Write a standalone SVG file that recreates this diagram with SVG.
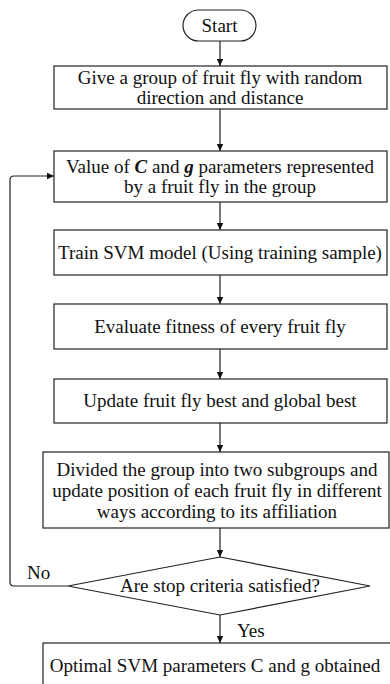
<svg xmlns="http://www.w3.org/2000/svg" width="390" height="684" viewBox="0 0 390 684">
<defs>
<marker id="ah" markerWidth="8" markerHeight="8" refX="7" refY="4" orient="auto" markerUnits="userSpaceOnUse">
<path d="M0,0.8 L7,4 L0,7.2 Z" fill="#111"/>
</marker>
<style>
.box{fill:#fff;stroke:#222;stroke-width:1.2}
.t{font-family:"Liberation Serif","Times New Roman",serif;font-size:19px;fill:#111;text-anchor:middle}
.l{font-family:"Liberation Serif","Times New Roman",serif;font-size:19px;fill:#111}
.c{fill:none;stroke:#222;stroke-width:1.2}
</style>
</defs>
<rect width="390" height="684" fill="#fff"/>
<g id="connectors">
<line class="c" x1="220" y1="41" x2="220" y2="66" marker-end="url(#ah)"/>
<line class="c" x1="220" y1="109" x2="220" y2="151" marker-end="url(#ah)"/>
<line class="c" x1="220" y1="202" x2="220" y2="230" marker-end="url(#ah)"/>
<line class="c" x1="220" y1="275" x2="220" y2="304" marker-end="url(#ah)"/>
<line class="c" x1="220" y1="349" x2="220" y2="379" marker-end="url(#ah)"/>
<line class="c" x1="220" y1="423" x2="220" y2="452" marker-end="url(#ah)"/>
<line class="c" x1="220" y1="528" x2="220" y2="557" marker-end="url(#ah)"/>
<line class="c" x1="220" y1="615" x2="220" y2="643" marker-end="url(#ah)"/>
<path class="c" d="M68,586 H14 Q10,586 10,582 V180 Q10,176 14,176 H54" marker-end="url(#ah)"/>
<text class="l" x="27" y="579">No</text>
<text class="l" x="237" y="637">Yes</text>
</g>
<g id="start">
<rect class="box" x="183" y="10" width="73" height="31" rx="15.5"/>
<text class="t" x="219.5" y="32">Start</text>
</g>
<g id="init">
<rect class="box" x="54" y="66" width="333" height="43"/>
<text class="t" x="220" y="84">Give a group of fruit fly with random</text>
<text class="t" x="220" y="104">direction and distance</text>
</g>
<g id="params">
<rect class="box" x="54" y="151" width="333" height="51"/>
<text class="t" x="220" y="173">Value of <tspan font-weight="bold" font-style="italic">C</tspan> and <tspan font-weight="bold" font-style="italic">g</tspan> parameters represented</text>
<text class="t" x="220" y="193">by a fruit fly in the group</text>
</g>
<g id="train">
<rect class="box" x="54" y="230" width="333" height="45"/>
<text class="t" x="220" y="259">Train SVM model (Using training sample)</text>
</g>
<g id="evaluate">
<rect class="box" x="54" y="304" width="333" height="45"/>
<text class="t" x="220" y="333">Evaluate fitness of every fruit fly</text>
</g>
<g id="update">
<rect class="box" x="54" y="379" width="333" height="44"/>
<text class="t" x="220" y="407">Update fruit fly best and global best</text>
</g>
<g id="divide">
<rect class="box" x="43" y="452" width="346" height="76"/>
<text class="t" x="217" y="476">Divided the group into two subgroups and</text>
<text class="t" x="217" y="497">update position of each fruit fly in different</text>
<text class="t" x="217" y="518">ways according to its affiliation</text>
</g>
<g id="decision">
<polygon class="box" points="220,557 370,586 220,615 68,586"/>
<text class="t" x="220" y="592">Are stop criteria satisfied?</text>
</g>
<g id="end">
<rect class="box" x="43" y="643" width="360" height="50"/>
<text class="t" x="215" y="672">Optimal SVM parameters C and g obtained</text>
</g>
</svg>
